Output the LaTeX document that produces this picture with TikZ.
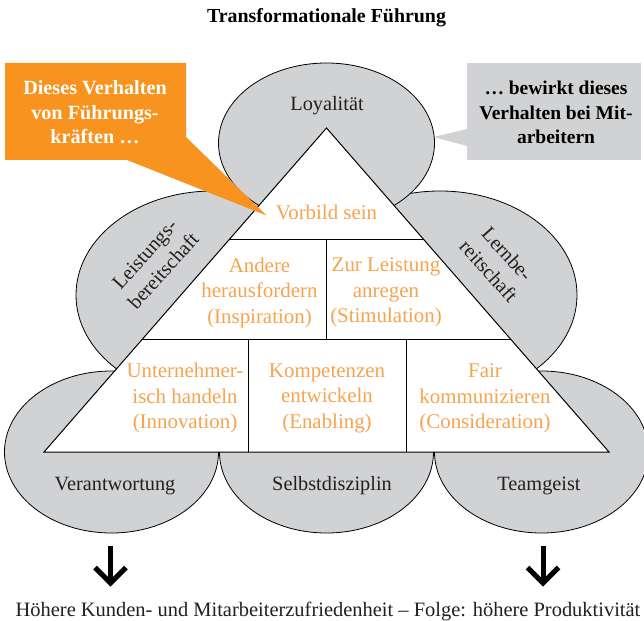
\documentclass[tikz,border=0pt]{standalone}
\usepackage{fontspec}
\setmainfont{Liberation Serif}
\usetikzlibrary{calc}

\definecolor{shapegrey}{RGB}{209,210,212}
\definecolor{calloutorange}{RGB}{247,147,30}
\definecolor{labelorange}{RGB}{248,163,77}
\definecolor{labeldark}{RGB}{35,31,32}

\tikzset{
  field/.style={fill=shapegrey, draw=black, line width=0.8pt},
  pyramid/.style={fill=white, draw=black, line width=1pt, line join=miter},
  divider/.style={draw=black, line width=1pt},
  greylabel/.style={text=labeldark, font=\fontsize{20.3}{25}\selectfont, align=center, inner sep=0pt},
  behaviour/.style={text=labelorange, font=\fontsize{20.9}{25.5}\selectfont, align=center, inner sep=0pt},
  callouttext/.style={font=\bfseries\fontsize{19.5}{24.5}\selectfont, align=center, inner sep=0pt},
  headline/.style={font=\bfseries\fontsize{19.9}{24}\selectfont, inner sep=0pt, anchor=base},
  downarrow/.style={draw=black, line width=5pt, line join=miter},
}

\begin{document}
\begin{tikzpicture}[x=1pt, y=-1pt]
  \useasboundingbox (0,0) rectangle (644,620);

  % corners of the pyramid
  \coordinate (apex) at (326.5,128);
  \coordinate (bl) at (44,452);
  \coordinate (br) at (609,452);

  % grey callout on the right (drawn below the top ellipse)
  \fill[shapegrey] (467,63) rectangle (641,160);
  \fill[shapegrey] (467,129) -- (433.5,137) -- (467,146) -- cycle;

  % attitudes along the base
  \draw[field] (111.5,452) ellipse [x radius=107pt, y radius=81pt];
  \draw[field] (326.5,452) ellipse [x radius=107pt, y radius=81pt];
  \draw[field] (541.5,452) ellipse [x radius=107pt, y radius=81pt];

  % attitudes along the sides
  \draw[field] (213,295) ellipse [x radius=137pt, y radius=104pt];
  \draw[field] (440,295) ellipse [x radius=137pt, y radius=104pt];

  % attitude at the top
  \draw[field] (326.5,143) ellipse [x radius=108pt, y radius=80pt];

  % the pyramid of behaviours
  \draw[pyramid] (apex) -- (bl) -- (br) -- cycle;
  \coordinate (h1l) at ($(apex)!0.3435!(bl)$);
  \coordinate (h1r) at ($(apex)!0.3435!(br)$);
  \coordinate (h2l) at ($(apex)!0.6522!(bl)$);
  \coordinate (h2r) at ($(apex)!0.6522!(br)$);
  \draw[divider] (h1l) -- (h1r);
  \draw[divider] (h2l) -- (h2r);
  \draw[divider] (h1l -| apex) -- (h2l -| apex);
  \coordinate (v2) at (248.5,452);
  \coordinate (v3) at (406.6,452);
  \draw[divider] (h2l -| v2) -- (v2);
  \draw[divider] (h2l -| v3) -- (v3);

  % orange callout
  \fill[calloutorange] (5,63) -- (186,63) -- (186,137) -- (266.5,215.5)
    -- (127,160) -- (5,160) -- cycle;

  % callout texts
  \node[callouttext, text=white, font=\bfseries\fontsize{20.2}{24.5}\selectfont] (leadq) at (95,112.4)
    {Dieses Verhalten\\von Führungs-\\kräften \dots};
  \node[callouttext, text=black] (leada) at (556,112.4)
    {\dots\ bewirkt dieses\\Verhalten bei Mit-\\arbeitern};

  % behaviours
  \node[behaviour, anchor=base] (vorbild) at (326.5,219) {Vorbild sein};
  \node[behaviour] (inspir) at (259.5,292.5) {Andere\\herausfordern\\(Inspiration)};
  \node[behaviour] (stimul) at (386,292.5) {Zur Leistung\\anregen\\(Stimulation)};
  \node[behaviour] (innov) at (185,398.4) {Unternehmer-\\isch handeln\\(Innovation)};
  \node[behaviour] (enabl) at (327,398.4) {Kompetenzen\\entwickeln\\(Enabling)};
  \node[behaviour] (consid) at (485,398.4) {Fair\\kommunizieren\\(Consideration)};

  % attitudes
  \node[greylabel, anchor=base] (loyal) at (327,110.5) {Loyalität};
  \node[greylabel, rotate=48] (leist) at (154,262.5) {Leistungs-\\bereitschaft};
  \node[greylabel, rotate=-48] (lern) at (498,262.5) {Lernbe-\\reitschaft};
  \node[greylabel, anchor=base] (verant) at (115,490) {Verantwortung};
  \node[greylabel, anchor=base] (selbst) at (332,490) {Selbstdisziplin};
  \node[greylabel, anchor=base] (team) at (539,490) {Teamgeist};

  % consequences
  \coordinate (la) at (110.5,546);
  \coordinate (lb) at (110.5,583);
  \coordinate (ra) at (543,546);
  \coordinate (rb) at (543,583);
  \draw[downarrow] (la) -- (lb);
  \draw[downarrow] ($(lb)+(-15.5,-15.5)$) -- (lb) -- ($(lb)+(15.5,-15.5)$);
  \draw[downarrow] (ra) -- (rb);
  \draw[downarrow] ($(rb)+(-15.5,-15.5)$) -- (rb) -- ($(rb)+(15.5,-15.5)$);
  \node[greylabel, anchor=base, font=\fontsize{20.45}{25}\selectfont] (result) at (328,616.7)
    {Höhere Kunden- und Mitarbeiterzufriedenheit – Folge: höhere Produktivität};

  % title
  \node[headline] (title) at (326.5,22.7) {Transformationale Führung};
\end{tikzpicture}
\end{document}
